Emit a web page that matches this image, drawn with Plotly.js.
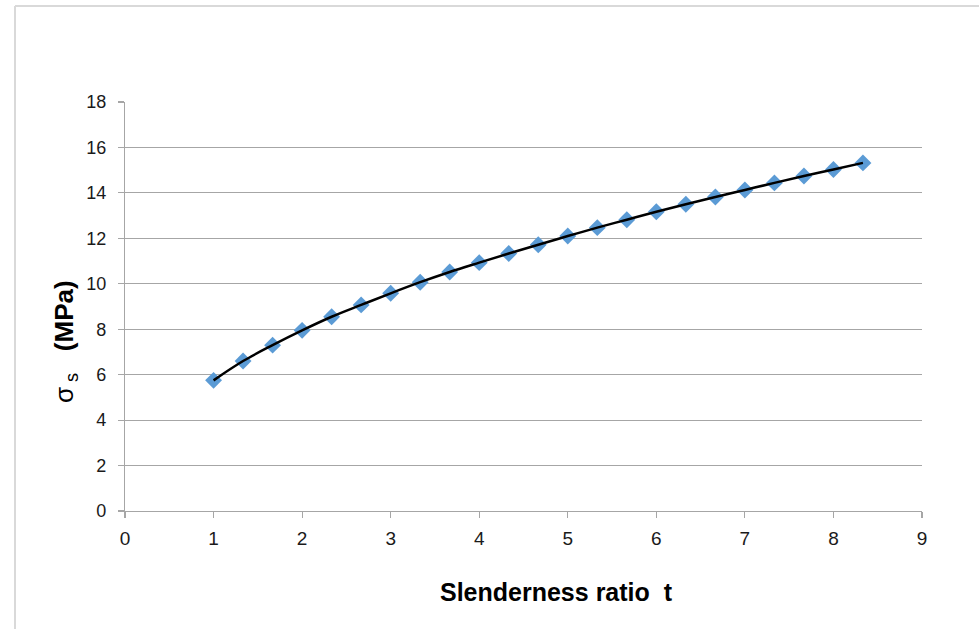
<!DOCTYPE html>
<html>
<head>
<meta charset="utf-8">
<script src="https://cdn.plot.ly/plotly-3.0.1.min.js"></script>
<style>html,body{margin:0;padding:0;background:#fff;}#chart{width:979px;height:629px;}</style>
</head>
<body>
<div id="chart"></div>
<script>
const slenderness = [1, 4/3, 5/3, 2, 7/3, 8/3, 3, 10/3, 11/3, 4, 13/3, 14/3, 5, 16/3, 17/3, 6, 19/3, 20/3, 7, 22/3, 23/3, 8, 25/3];
const sigmaS = [5.75, 6.6, 7.3, 7.95, 8.55, 9.07, 9.58, 10.07, 10.52, 10.93, 11.33, 11.72, 12.1, 12.47, 12.82, 13.17, 13.5, 13.82, 14.13, 14.44, 14.74, 15.03, 15.32];
const xTicks = [0, 1, 2, 3, 4, 5, 6, 7, 8, 9];
const yTicks = [0, 2, 4, 6, 8, 10, 12, 14, 16, 18];

const W = 979, L = 125, R = 57, T = 102, B = 118;
const pw = W - L - R;
const ph = 629 - T - B;

const traces = [
  {
    x: slenderness, y: sigmaS, mode: 'markers', type: 'scatter',
    marker: {symbol: 'diamond', size: 13, color: '#5b9bd5'},
    showlegend: false, hoverinfo: 'skip'
  },
  {
    x: slenderness, y: sigmaS, mode: 'lines', type: 'scatter',
    line: {color: '#000000', width: 2.5, shape: 'spline'},
    showlegend: false, hoverinfo: 'skip'
  }
];

const layout = {
  width: W, height: 629,
  margin: {l: L, r: R, t: T, b: B},
  paper_bgcolor: '#ffffff', plot_bgcolor: '#ffffff',
  font: {family: 'Liberation Sans, Arial, sans-serif', size: 16, color: '#262626'},
  xaxis: {
    range: [0, 9], tickvals: xTicks, ticktext: xTicks.map(String),
    showgrid: false, zeroline: false,
    showline: true, linecolor: '#a6a6a6', linewidth: 1.2,
    ticks: 'outside', ticklen: 6, tickcolor: '#a6a6a6', tickwidth: 1.2,
    ticklabelstandoff: 4,
    tickfont: {family: 'Liberation Sans, sans-serif', size: 19, color: '#1a1a1a'}
  },
  yaxis: {
    range: [0, 18], tickvals: yTicks, ticktext: yTicks.map(String),
    showgrid: true, gridcolor: '#a6a6a6', gridwidth: 1.2, zeroline: false,
    showline: true, linecolor: '#a6a6a6', linewidth: 1.2,
    ticks: 'outside', ticklen: 6, tickcolor: '#a6a6a6', tickwidth: 1.2,
    ticklabelstandoff: 8,
    tickfont: {family: 'Liberation Sans, sans-serif', size: 18, color: '#1a1a1a'}
  },
  annotations: [
    {
      text: '<b>Slenderness ratio  t</b>',
      xref: 'paper', yref: 'paper',
      x: (556 - L) / pw, y: (629 - 592 - B) / ph,
      xanchor: 'center', yanchor: 'middle', showarrow: false,
      font: {family: 'Liberation Sans, sans-serif', size: 25, color: '#000000'}
    },
    {
      text: 'σ<sub> s</sub>   <b>(MPa)</b>',
      xref: 'paper', yref: 'paper',
      x: (65 - L) / pw, y: (629 - 342 - B) / ph,
      xanchor: 'center', yanchor: 'middle', showarrow: false, textangle: -90,
      font: {family: 'Liberation Sans, sans-serif', size: 26, color: '#000000'}
    }
  ],
  shapes: [
    {type: 'line', xref: 'paper', yref: 'paper',
     x0: (15 - L) / pw, x1: (979 - L) / pw, y0: (629 - 6 - B) / ph, y1: (629 - 6 - B) / ph,
     line: {color: '#d9d9d9', width: 2}},
    {type: 'line', xref: 'paper', yref: 'paper',
     x0: (15 - L) / pw, x1: (15 - L) / pw, y0: (629 - 6 - B) / ph, y1: (629 - 640 - B) / ph,
     line: {color: '#d9d9d9', width: 2}}
  ]
};

Plotly.newPlot('chart', traces, layout, {staticPlot: true, displayModeBar: false});
</script>
</body>
</html>
